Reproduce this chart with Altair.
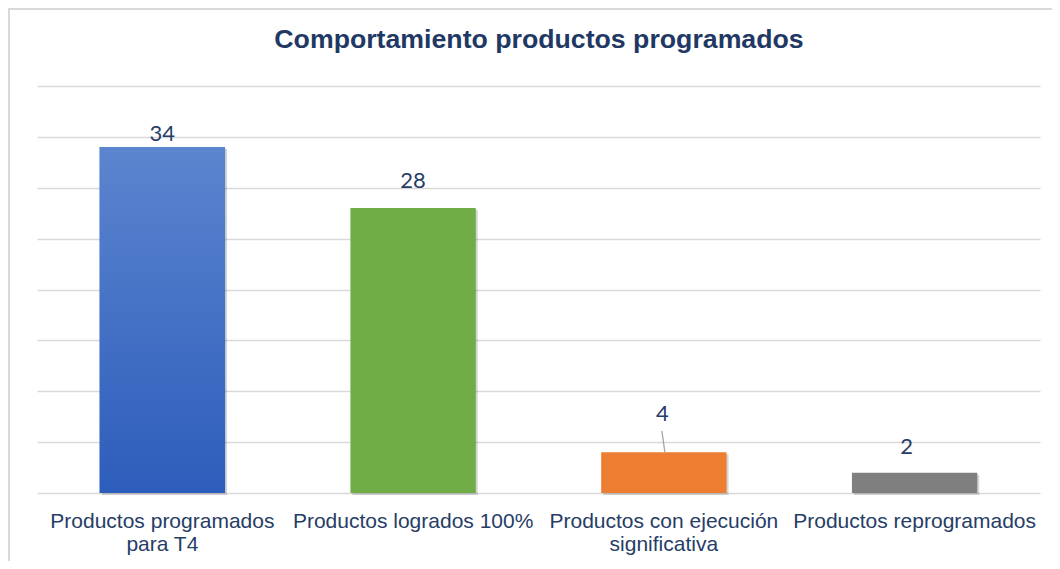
import altair as alt
import pandas as pd

categories = [
    "Productos programados\npara T4",
    "Productos logrados 100%",
    "Productos con ejecución\nsignificativa",
    "Productos reprogramados",
]
values = [34, 28, 4, 2]
y_ticks = [0, 5, 10, 15, 20, 25, 30, 35, 40]
title_text = "Comportamiento productos programados"

# styling
bar_colors = ["#2F5FBE", "#70AD47", "#ED7D31", "#7F7F7F"]
label_dy = [-6, -20, -31, -19]
label_dx = [0, 0, -1.5, -8]
navy = "#1F3864"
label_navy = "#263D66"

df = pd.DataFrame({"cat": categories, "value": values})

x_enc = alt.X(
    "cat:N",
    sort=categories,
    scale=alt.Scale(paddingInner=0.5, paddingOuter=0.25),
    axis=alt.Axis(
        title=None, labelAngle=0, domain=False, ticks=False, labelPadding=17,
        labelFont="Liberation Sans", labelFontSize=21, labelColor=label_navy,
        labelLineHeight=23, labelLimit=400,
        labelExpr="split(datum.label, '\\n')",
    ),
)
y_enc = alt.Y(
    "value:Q",
    scale=alt.Scale(domain=[0, 40], nice=False),
    axis=alt.Axis(
        title=None, values=y_ticks, labels=False, ticks=False, domain=False,
        grid=True, gridColor="#D9D9D9", gridWidth=1.6,
    ),
)

base = alt.Chart(df)

shadow = base.mark_bar(color="#000000", opacity=0.16, xOffset=2, yOffset=2).encode(
    x=x_enc, y=y_enc
)

bars = base.mark_bar().encode(
    x=x_enc,
    y=y_enc,
    color=alt.Color("cat:N", sort=categories,
                    scale=alt.Scale(domain=categories, range=bar_colors), legend=None),
)

gradient_bar = base.transform_filter(alt.datum.cat == categories[0]).mark_bar(
    color=alt.LinearGradient(
        gradient="linear",
        stops=[alt.GradientStop(color="#5C85CF", offset=0),
               alt.GradientStop(color="#2D5DBB", offset=1)],
        x1=0, x2=0, y1=0, y2=1,
    )
).encode(x=x_enc, y=y_enc)

leader = base.transform_filter(alt.datum.cat == categories[2]).transform_calculate(
    top="datum.value + 2.1"
).mark_rule(color="#A6A6A6", strokeWidth=1.3, xOffset=1, x2Offset=-2).encode(
    x=x_enc, x2="cat:N", y=y_enc, y2="top:Q"
)

label_layers = []
for i, c in enumerate(categories):
    label_layers.append(
        base.transform_filter(alt.datum.cat == c).mark_text(
            font="Lato", fontSize=22, color=label_navy, baseline="alphabetic",
            align="center", dy=label_dy[i], dx=label_dx[i],
        ).encode(x=x_enc, y=y_enc, text="value:Q")
    )

title = alt.Chart(pd.DataFrame({"t": [title_text]})).mark_text(
    font="Liberation Sans", fontSize=26.7, fontWeight="bold", color=navy,
    align="center", baseline="alphabetic",
).encode(x=alt.value(502), y=alt.value(-38), text="t:N")

frame_df = pd.DataFrame({"k": [0]})
left_line = alt.Chart(frame_df).mark_rule(color="#D9D9D9", strokeWidth=2).encode(
    x=alt.value(-28), y=alt.value(-78), y2=alt.value(480)
)
top_line = alt.Chart(frame_df).mark_rule(color="#D9D9D9", strokeWidth=2).encode(
    x=alt.value(-29), x2=alt.value(1015), y=alt.value(-77)
)

chart = alt.layer(
    left_line, top_line, shadow, bars, gradient_bar, leader, *label_layers, title
).properties(
    width=1003, height=407,
    autosize=alt.AutoSizeParams(type="none"),
    padding={"left": 29, "top": 78, "right": 12, "bottom": 68},
    background="white",
).configure_view(stroke=None)

chart.save("out.html", embed_options={"renderer": "svg", "actions": False})
